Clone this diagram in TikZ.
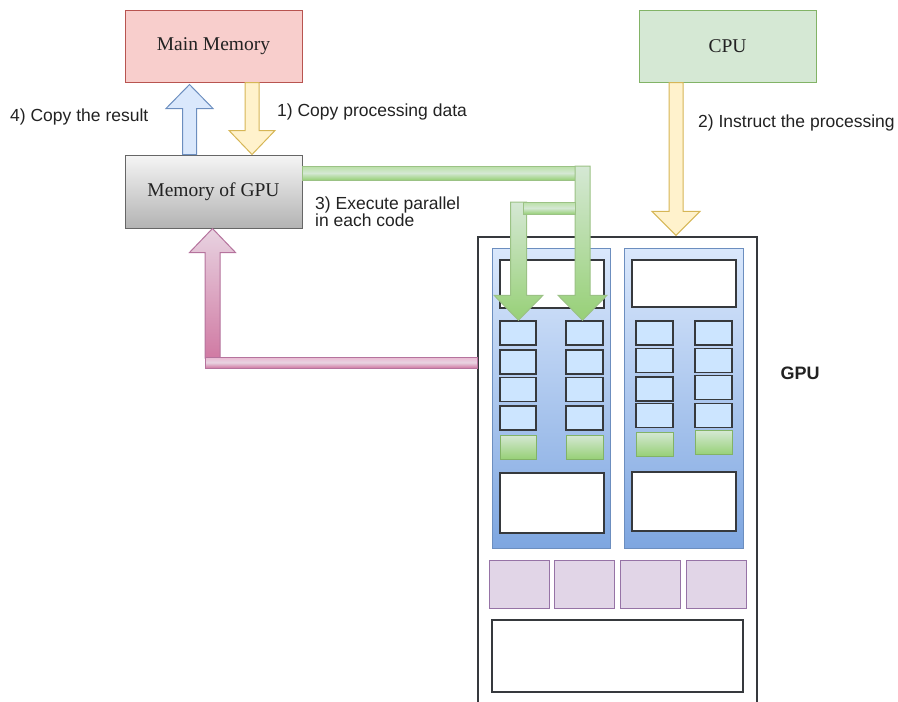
\documentclass[tikz,border=0pt]{standalone}
\usepackage{fontspec}
\setmainfont{Liberation Serif}
\newfontfamily\lblfont{Liberation Sans}
\usetikzlibrary{calc}
\definecolor{mmfill}{HTML}{F8CECC}\definecolor{mmline}{HTML}{B85450}
\definecolor{cpufill}{HTML}{D5E8D4}\definecolor{cpuline}{HTML}{82B366}
\definecolor{gmtop}{HTML}{F5F5F5}\definecolor{gmbot}{HTML}{B3B3B3}\definecolor{gmline}{HTML}{666666}
\definecolor{bluefill}{HTML}{DAE8FC}\definecolor{blueline}{HTML}{6C8EBF}
\definecolor{smbot}{HTML}{7EA6E0}
\definecolor{cellfill}{HTML}{CCE5FF}\definecolor{darkline}{HTML}{36393D}
\definecolor{yelfill}{HTML}{FFF2CC}\definecolor{yelline}{HTML}{D6B656}
\definecolor{grnbot}{HTML}{97D077}\definecolor{grnmid}{HTML}{B9E0A5}
\definecolor{pinktop}{HTML}{E8D3E1}\definecolor{pinkbot}{HTML}{D07AA3}\definecolor{pinkline}{HTML}{B5739D}
\definecolor{pinkbar}{HTML}{E9B8D1}
\definecolor{purfill}{HTML}{E1D5E7}\definecolor{purline}{HTML}{9673A6}
\definecolor{txt}{HTML}{222222}
% vertical block arrow: start, tip, half shaft, half head, head length, style
\newcommand\vblock[6]{%
 \path[#6] let \p1=(#1), \p2=(#2), \n1={(\y1-\y2)/abs(\y1-\y2)} in
  (\x1-#3,\y1) -- (\x1-#3,\y2+\n1*#5) -- (\x1-#4,\y2+\n1*#5) -- (\x1,\y2)
  -- (\x1+#4,\y2+\n1*#5) -- (\x1+#3,\y2+\n1*#5) -- (\x1+#3,\y1) -- cycle;}
\begin{document}
\begin{tikzpicture}[x=1pt,y=-1pt,
  box/.style={draw, line width=1pt, minimum width=177pt, minimum height=72pt, inner sep=0pt,
    font=\fontsize{19.5}{22}\selectfont, text=txt},
  lbl/.style={font=\lblfont\fontsize{17.5}{16}\selectfont, text=txt, anchor=west, inner sep=0pt},
  smpanel/.style={draw=blueline, line width=0.8pt, top color=bluefill, bottom color=smbot,
    minimum height=300pt, inner sep=0pt},
  whitebox/.style={draw=darkline, line width=1.6pt, fill=white, inner sep=0pt, minimum width=104pt},
  cell/.style={draw=darkline, line width=1.5pt, fill=cellfill, inner sep=0pt, minimum height=24pt},
  gcell/.style={draw=cpuline, line width=1pt, top color=cpufill, bottom color=grnbot, inner sep=0pt,
    minimum height=24pt},
  pcell/.style={draw=purline, line width=1pt, fill=purfill, inner sep=0pt, minimum width=60pt, minimum height=48pt},
  blueArrow/.style={draw=blueline, line width=1pt, fill=bluefill},
  yelArrow/.style={draw=yelline, line width=1pt, fill=yelfill},
  grnV/.style={draw=cpuline!80, line width=1pt, top color=cpufill, bottom color=grnbot},
  grnH/.style={draw=cpuline!80, line width=1pt, top color=grnmid, bottom color=grnbot, middle color=cpufill},
  pinkV/.style={draw=pinkline, line width=1pt, top color=pinktop, bottom color=pinkbot},
  pinkH/.style={draw=pinkline, line width=1pt, top color=pinkbar, bottom color=pinkbot, middle color=pinktop},
]
\useasboundingbox (0,0) rectangle (898,702);

% main boxes
\node[box, draw=mmline, fill=mmfill] (mm) at (213.5,46) {Main Memory};
\node[box, draw=cpuline, fill=cpufill] (cpu) at (727.5,46) {CPU};
\node[box, draw=gmline, top color=gmtop, bottom color=gmbot, minimum height=73pt] (gm) at (213.5,191.5) {Memory of GPU};

% GPU outline (open at bottom)
\node[minimum width=279pt, minimum height=465pt, inner sep=0pt] (gpu) at (617.5,469.5) {};
\draw[draw=darkline, line width=1.6pt] (gpu.south west) -- (gpu.north west) -- (gpu.north east) -- (gpu.south east);
\node[font=\lblfont\bfseries\fontsize{18}{20}\selectfont, text=txt] (gpulbl) at (800,373) {GPU};

% SM panels
\node[smpanel, minimum width=118pt] (sm1) at (551,398) {};
\node[smpanel, minimum width=119pt] (sm2) at (683.5,398) {};
\node[whitebox, minimum height=48pt] (t1) at (552,284) {};
\node[whitebox, minimum height=47pt] (t2) at (684,283.5) {};
\node[whitebox, minimum height=60pt] (b1) at (552,503) {};
\node[whitebox, minimum height=59pt] (b2) at (684,501.5) {};

% cells
\foreach \y [count=\i] in {333,362,389.5,418}{
  \node[cell, minimum width=36pt] (la\i) at (518,\y) {};
  \node[cell, minimum width=37pt] (lb\i) at (584.5,\y) {};
}
\foreach \y [count=\i] in {333,360.5,389,415.5}{
  \node[cell, minimum width=37pt] (ra\i) at (654.5,\y) {};
}
\foreach \y [count=\i] in {333,360.5,387.5,415.5}{
  \node[cell, minimum width=37pt] (rb\i) at (713.5,\y) {};
}
\node[gcell, minimum width=36pt] (lg1) at (518,447) {};
\node[gcell, minimum width=37pt] (lg2) at (584.5,447) {};
\node[gcell, minimum width=37pt] (rg1) at (654.5,444) {};
\node[gcell, minimum width=37pt] (rg2) at (713.5,442.5) {};

% purple cells and bottom box
\foreach \x [count=\i] in {519,584,650,716}{
  \node[pcell] (p\i) at (\x,584) {};
}
\node[whitebox, minimum width=251pt, minimum height=72pt] (bot) at (617.5,656) {};

% arrows between main memory and GPU memory
\coordinate (bS) at ($(gm.north)+(-24,0)$);
\coordinate (bT) at ($(bS |- mm.south)+(0,2)$);
\vblock{bS}{bT}{7pt}{23.5pt}{24pt}{blueArrow}
\coordinate (yS) at ($(mm.south)+(38.5,0)$);
\coordinate (yT) at (yS |- gm.north);
\vblock{yS}{yT}{7pt}{23pt}{24pt}{yelArrow}
% CPU to GPU
\coordinate (cS) at ($(cpu.south)+(-51.5,0)$);
\coordinate (cT) at ($(cS |- gpu.north)+(0,-1.5)$);
\vblock{cS}{cT}{7pt}{24pt}{24pt}{yelArrow}

% green arrows: GPU memory to cores
\coordinate (gA) at ($(gm.east)+(0,-25.5)$);
\coordinate (gB) at ($(gm.east)+(0,-11.5)$);
\path[grnH] (gA) rectangle (gB -| 583,0);
\coordinate (g1S) at (582.5,166);
\coordinate (g1T) at (lb1.north);
\vblock{g1S}{g1T}{7.5pt}{24.5pt}{25pt}{grnV}
\coordinate (g2S) at (518.5,202);
\coordinate (g2T) at (la1.north);
\vblock{g2S}{g2T}{8pt}{24.5pt}{25pt}{grnV}
\path[grnH] (523,202) rectangle (575,214);

% pink arrow: GPU back to GPU memory
\coordinate (pS) at (212.5,358);
\coordinate (pT) at (gm.south);
\vblock{pS}{pT}{7.5pt}{23pt}{24pt}{pinkV}
\coordinate (pA) at (205,357);
\coordinate (pB) at (gpu.west |- 0,368);
\path[pinkH] (pA) rectangle (pB);

% labels
\node[lbl] (l4) at (10,117) {4) Copy the result};
\node[lbl] (l1) at (277,112) {1) Copy processing data};
\node[lbl] (l2) at (698,123) {2) Instruct the processing};
\node[lbl, align=left] (l3) at (315,212) {3) Execute parallel\\in each code};
\end{tikzpicture}
\end{document}
